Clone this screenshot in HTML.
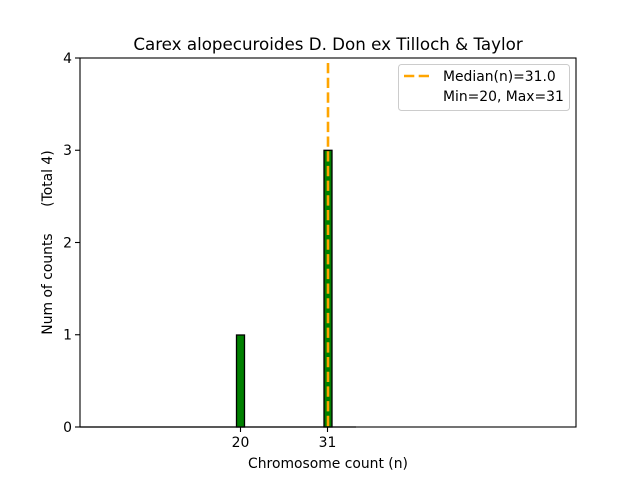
<!DOCTYPE html>
<html><head><meta charset="utf-8"><style>body{margin:0;background:#fff}svg{display:block}text{font-family:"DejaVu Sans","Liberation Sans",sans-serif;fill:#000}</style></head><body>
<svg width="640" height="480" viewBox="0 0 640 480" xmlns="http://www.w3.org/2000/svg">
<rect width="640" height="480" fill="#fff"/>
<line x1="80" y1="427" x2="356" y2="427" stroke="#888" stroke-width="1.5"/>
<rect x="236.5" y="335" width="8" height="92" fill="#008000" stroke="#000" stroke-width="1.3"/>
<rect x="324" y="150.3" width="8" height="276.7" fill="#008000" stroke="#000" stroke-width="1.3"/>
<line x1="328" y1="63" x2="328" y2="427" stroke="#ffa500" stroke-width="2.6" stroke-dasharray="10.3,4.4"/>
<rect x="80" y="58" width="496" height="369" fill="none" stroke="#000" stroke-width="1.1"/>
<g stroke="#000" stroke-width="1.1">
<line x1="75" y1="58" x2="80" y2="58"/><line x1="75" y1="150.25" x2="80" y2="150.25"/><line x1="75" y1="242.5" x2="80" y2="242.5"/><line x1="75" y1="334.75" x2="80" y2="334.75"/><line x1="75" y1="427" x2="80" y2="427"/>
<line x1="240.5" y1="427" x2="240.5" y2="432"/><line x1="327.5" y1="427" x2="327.5" y2="432"/>
</g>
<g font-size="13.9" text-anchor="end">
<text x="72" y="63">4</text><text x="72" y="155.2">3</text><text x="72" y="247.5">2</text><text x="72" y="339.7">1</text><text x="72" y="432">0</text>
</g>
<g font-size="13.9" text-anchor="middle">
<text x="240.5" y="447">20</text><text x="327.5" y="447">31</text>
<text x="328" y="468">Chromosome count (n)</text>
<text x="328" y="50" font-size="16.7">Carex alopecuroides D. Don ex Tilloch &amp; Taylor</text>
<text transform="translate(52,242.5) rotate(-90)" xml:space="preserve">Num of counts      (Total 4)</text>
</g>
<rect x="398.5" y="64.5" width="171" height="46" rx="3" fill="#fff" stroke="#ccc" stroke-width="1"/>
<line x1="404" y1="76" x2="432" y2="76" stroke="#ffa500" stroke-width="2.6" stroke-dasharray="10.3,4.4"/>
<text x="443" y="81" font-size="13.9">Median(n)=31.0</text>
<text x="443" y="101" font-size="13.9">Min=20, Max=31</text>
</svg>
</body></html>
